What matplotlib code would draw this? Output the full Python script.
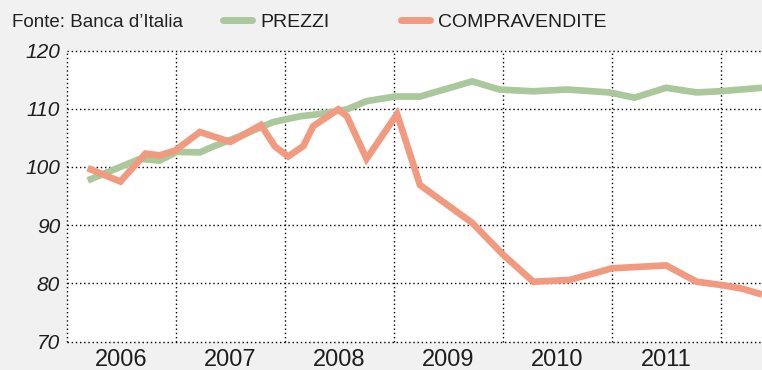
import numpy as np
import matplotlib
matplotlib.use("Agg")
import matplotlib.pyplot as plt

# Indici (2006 = 100 circa), tempo in anni decimali
prezzi_t = [2006.19, 2006.67, 2006.85, 2007.01, 2007.22, 2007.34, 2007.59, 2007.89,
            2008.14, 2008.32, 2008.57, 2008.75, 2009.01, 2009.24, 2009.72, 2009.97,
            2010.28, 2010.59, 2010.98, 2011.21, 2011.50, 2011.78, 2011.99, 2012.38]
prezzi = [97.7, 101.4, 101.1, 102.6, 102.5, 103.5, 105.3, 107.7,
          108.7, 109.1, 109.9, 111.3, 112.1, 112.1, 114.7, 113.3,
          113.0, 113.3, 112.8, 111.9, 113.6, 112.8, 113.0, 113.6]

compr_t = [2006.19, 2006.49, 2006.72, 2006.85, 2006.99, 2007.22, 2007.50, 2007.78,
           2007.91, 2008.03, 2008.17, 2008.26, 2008.49, 2008.57, 2008.75, 2009.03,
           2009.24, 2009.72, 2010.00, 2010.28, 2010.61, 2010.89, 2011.00, 2011.50,
           2011.78, 2012.02, 2012.20, 2012.38]
compravendite = [99.8, 97.5, 102.3, 102.0, 102.8, 106.0, 104.3, 107.2,
                 103.5, 101.8, 103.6, 107.0, 109.9, 108.7, 101.4, 109.1,
                 96.9, 90.4, 85.0, 80.3, 80.6, 82.0, 82.6, 83.1,
                 80.3, 79.7, 79.1, 78.1]

anni = [2006, 2007, 2008, 2009, 2010, 2011]
y_ticks = [70, 80, 90, 100, 110, 120]

verde = "#aac89c"
arancio = "#f29a7f"
sfondo = "#f0f1f0"

plt.rcParams["font.family"] = ["Liberation Sans", "DejaVu Sans"]

fig = plt.figure(figsize=(7.62, 3.70), dpi=100, facecolor=sfondo)
ax = fig.add_axes([67 / 762, 1 - 341.7 / 370, 1 - 67 / 762, (341.7 - 50.5) / 370])
ax.set_facecolor("white")

l1, = ax.plot(prezzi_t, prezzi, color=verde, lw=4.8, solid_joinstyle="miter",
              solid_capstyle="butt", label="PREZZI", zorder=3)
l2, = ax.plot(compr_t, compravendite, color=arancio, lw=4.8, solid_joinstyle="miter",
              solid_capstyle="butt", label="COMPRAVENDITE", zorder=4)

ax.set_xlim(2006, 2012.38)
ax.set_ylim(70, 120)

# griglia puntinata: anni (major) e decine (y)
ax.set_xticks(anni + [2012])
ax.set_xticklabels([])
ax.set_xticks([a + 0.5 for a in anni], minor=True)
ax.set_xticklabels([str(a) for a in anni], minor=True, fontsize=17, color="#1e1e1e")
ax.set_yticks(y_ticks)
ax.set_yticklabels([str(v) for v in y_ticks], fontsize=15, style="italic", color="#1e1e1e")
ax.tick_params(which="both", length=0)
ax.tick_params(axis="y", pad=5)
ax.tick_params(axis="x", which="minor", pad=5.5)
ax.grid(True, which="major", color="black", linestyle=(0, (1, 2)), lw=1.0)
for gl in ax.get_xgridlines() + ax.get_ygridlines():
    gl.set_clip_on(False)
for s in ax.spines.values():
    s.set_visible(False)

fig.text(12 / 762, 1 - 27 / 370, "Fonte: Banca d\u2019Italia", fontsize=13.5,
         color="#222222", ha="left", va="baseline")

fig.legend(handles=[l1, l2], loc="center left", bbox_to_anchor=(223 / 762, 1 - 22 / 370),
           ncol=2, frameon=False, fontsize=14, handlelength=1.5, handletextpad=0.4,
           columnspacing=3.7, borderpad=0, borderaxespad=0, labelcolor="#1e1e1e")
for h in fig.legends[0].legend_handles:
    h.set_linewidth(5)
    h.set_solid_capstyle("round")

fig.savefig("out.png", dpi=100, facecolor=sfondo)
